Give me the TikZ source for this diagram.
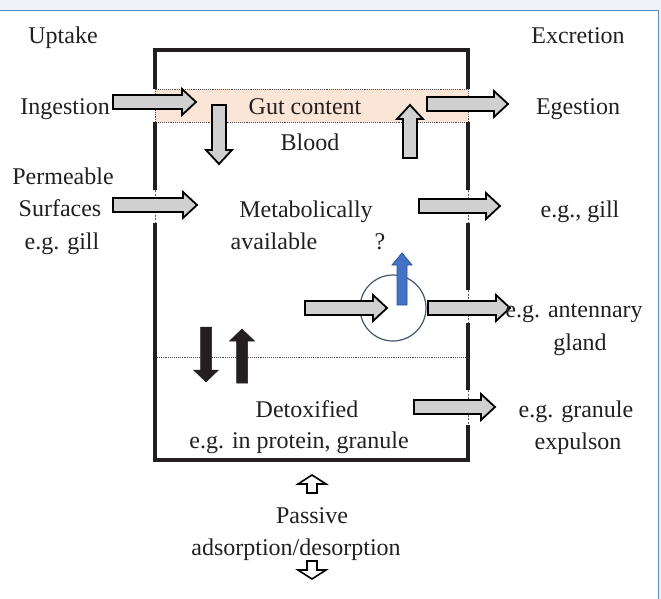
\documentclass[tikz,border=0pt]{standalone}
\usepackage{fontspec}
\setmainfont{Liberation Serif}
\definecolor{arrgray}{HTML}{D0D0D0}
\definecolor{peach}{HTML}{FBE5D6}
\definecolor{bluefill}{HTML}{4472C4}
\definecolor{bluedraw}{HTML}{2F5597}
\definecolor{circc}{HTML}{44546A}
\definecolor{txtc}{HTML}{231F20}
\definecolor{framebg}{HTML}{EEF1F6}
\definecolor{frameline}{HTML}{5B8BC9}
\newcommand\barrow[8]{%
\begin{scope}[shift={(#1,#2)},rotate=#4]
\draw[#8] (0,-#5) -- ({#3-#7},-#5) -- ({#3-#7},-#6) -- (#3,0) -- ({#3-#7},#6) -- ({#3-#7},#5) -- (0,#5) -- cycle;
\end{scope}}
\begin{document}
\begin{tikzpicture}[x=1pt,y=-1pt,
  txt/.style={font=\fontsize{24}{28}\selectfont, text=txtc, inner sep=0pt, anchor=base},
  grayarr/.style={fill=arrgray, draw=black, line width=1.8pt, line join=miter},
  blackarr/.style={fill=txtc, draw=txtc, line width=0.5pt},
  bluearr/.style={fill=bluefill, draw=bluedraw, line width=0.8pt},
  hollowarr/.style={fill=white, draw=black, line width=1.6pt, line join=miter},
  wall/.style={draw=txtc, line width=4pt},
  gap/.style={draw=gray!70!black, line width=0.7pt, dash pattern=on 2pt off 1.5pt},
  dotline/.style={draw=gray!60!black, line width=0.9pt, densely dotted}]
\useasboundingbox (0,0) rectangle (661,599);
% frame
\fill[framebg] (0,0) rectangle (661,10);
\fill[framebg] (659,0) rectangle (661,599);
\draw[frameline, line width=1pt] (0,10.5) -- (658.5,10.5) -- (658.5,599);
% gut band
\fill[peach] (155,89) rectangle (468,122);
\draw[dotline] (155,89) rectangle (468,122);
% dotted separator
\draw[dotline] (155,357) -- (468,357);
% gap dashes
\draw[gap] (155,190) -- (155,223);
\draw[gap] (468,190) -- (468,223);
\draw[gap] (468,290) -- (468,323);
\draw[gap] (468,390) -- (468,425);
% walls
\draw[wall] (155,89) -- (155,50) -- (468,50) -- (468,89);
\draw[wall] (155,122) -- (155,190);
\draw[wall] (468,122) -- (468,190);
\draw[wall] (468,223) -- (468,290);
\draw[wall] (468,323) -- (468,390);
\draw[wall] (155,223) -- (155,460) -- (468,460) -- (468,425);
% circle
\draw[circc, line width=1.2pt] (393,308) circle [radius=33];
% gray arrows
\barrow{113}{102}{83}{0}{7}{13}{14}{grayarr}
\barrow{427}{104}{81}{0}{7}{13}{14}{grayarr}
\barrow{113}{205}{84}{0}{7}{13}{14}{grayarr}
\barrow{419}{206}{81}{0}{7}{13}{14}{grayarr}
\barrow{305}{308}{82}{0}{7}{13}{14}{grayarr}
\barrow{428}{308}{82}{0}{7}{13}{14}{grayarr}
\barrow{414}{407}{81}{0}{7}{13}{14}{grayarr}
\barrow{219}{105}{59}{-90}{7}{13}{14}{grayarr}
\barrow{410}{158}{53}{90}{7}{13}{14}{grayarr}
% black arrows
\barrow{206}{327}{55}{-90}{5.5}{12.5}{12}{blackarr}
\barrow{242}{383}{54}{90}{5.5}{12.5}{12}{blackarr}
% blue arrow
\barrow{402}{305}{52}{90}{5}{10}{12}{bluearr}
% hollow arrows
\barrow{312}{493}{18}{90}{5}{14}{9}{hollowarr}
\barrow{312}{561}{18}{-90}{5}{14}{9}{hollowarr}
% texts
\node[txt] (uptake) at (63,44) {Uptake};
\node[txt] (excretion) at (578,44) {Excretion};
\node[txt, anchor=base east] (ingestion) at (110,115) {Ingestion};
\node[txt] (gut) at (305,115) {Gut content};
\node[txt] (egestion) at (578,115) {Egestion};
\node[txt] (blood) at (310,150) {Blood};
\node[txt] (perm1) at (63,184) {Permeable};
\node[txt] (perm2) at (60,216) {Surfaces};
\node[txt] (perm3) at (62,249) {e.g. gill};
\node[txt] (meta1) at (306,217) {Metabolically};
\node[txt] (meta2) at (274,249) {available};
\node[txt] (quest) at (380,249) {?};
\node[txt] (gill) at (580,217) {e.g., gill};
\node[txt] (ant1) at (574,317) {e.g. antennary};
\node[txt] (ant2) at (580,350) {gland};
\node[txt] (detox1) at (307,417) {Detoxified};
\node[txt] (detox2) at (299,448) {e.g. in protein, granule};
\node[txt] (gran1) at (576,417) {e.g. granule};
\node[txt] (gran2) at (578,449) {expulson};
\node[txt] (pass1) at (312,523) {Passive};
\node[txt] (pass2) at (296,555) {adsorption/desorption};
\end{tikzpicture}
\end{document}
